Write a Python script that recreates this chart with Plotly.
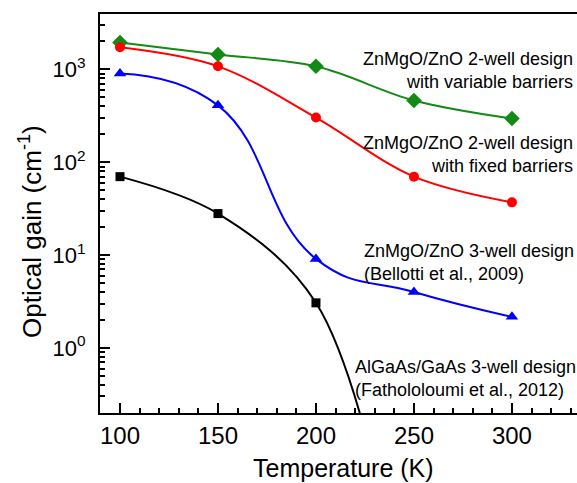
import plotly.graph_objects as go

temps = [100, 150, 200, 250, 300]
green_vals = [1950, 1450, 1080, 463, 296]   # variable barriers
red_vals = [1730, 1080, 303, 70, 37]        # fixed barriers
blue_vals = [906, 410, 9.1, 4.0, 2.16]      # 3-well ZnMgO/ZnO
black_x = [100, 150, 200]
black_vals = [70, 28, 3.06]                 # AlGaAs/GaAs
# extrapolated continuation of the black fitted curve (leaves the axes)
black_fit_x = [100, 150, 200, 240]
black_fit_vals = [70, 28, 3.06, 0.006]

y_tickvals = [1, 10, 100, 1000]
y_ticktext = ["10<sup>0</sup>", "10<sup>1</sup>", "10<sup>2</sup>", "10<sup>3</sup>"]
x_tickvals = [100, 150, 200, 250, 300]

FONT = "Arial, Liberation Sans, sans-serif"
GREEN = "#138a13"
RED = "#ff0000"
BLUE = "#0000ff"
BLACK = "#000000"

fig = go.Figure()

def add_series(x, y, color, symbol, size, fit_x=None, fit_y=None, smoothing=1.0):
    fx = fit_x if fit_x is not None else x
    fy = fit_y if fit_y is not None else y
    fig.add_trace(go.Scatter(x=fx, y=fy, mode="lines",
                             line=dict(color=color, width=2, shape="spline", smoothing=smoothing),
                             hoverinfo="skip", showlegend=False))
    fig.add_trace(go.Scatter(x=x, y=y, mode="markers",
                             marker=dict(color=color, symbol=symbol, size=size,
                                         line=dict(width=0)),
                             showlegend=False))

add_series(temps, green_vals, GREEN, "diamond", 12)
add_series(temps, red_vals, RED, "circle", 10)
add_series(temps, blue_vals, BLUE, "triangle-up", 11, smoothing=1.3)
add_series(black_x, black_vals, BLACK, "square", 9, black_fit_x, black_fit_vals)

minor_y = [m * 10 ** e for e in range(-1, 4) for m in range(2, 10)]
minor_x = [v for v in range(90, 340, 10) if v % 50 != 0]

fig.update_xaxes(range=[89.8, 333.2], tickvals=x_tickvals,
                 ticks="inside", ticklen=10, tickwidth=1.5, tickcolor="black",
                 showline=True, linecolor="black", linewidth=2, mirror=True,
                 showgrid=False, zeroline=False,
                 tickfont=dict(family=FONT, size=24, color="black"),
                 minor=dict(tickvals=minor_x, ticks="inside", ticklen=5, tickwidth=1.5,
                            tickcolor="black", showgrid=False))
fig.update_yaxes(type="log", range=[-0.701, 3.597], tickvals=y_tickvals, ticktext=y_ticktext,
                 ticks="inside", ticklen=10, tickwidth=1.5, tickcolor="black",
                 showline=True, linecolor="black", linewidth=2, mirror=False,
                 showgrid=False, zeroline=False, ticklabelstandoff=8,
                 tickfont=dict(family=FONT, size=22, color="black"),
                 minor=dict(tickvals=minor_y, ticks="inside", ticklen=5, tickwidth=1.5,
                            tickcolor="black", showgrid=False))

ann_font = dict(family=FONT, size=18, color="black")
fig.add_annotation(text="Temperature (K)", xref="paper", yref="paper",
                   x=0.5115, y=-0.138, xanchor="center", yanchor="middle", showarrow=False,
                   font=dict(family=FONT, size=25, color="black"))
fig.add_annotation(text="Optical gain (cm<sup>-1</sup>)", xref="paper", yref="paper",
                   x=-0.147, y=0.456, xanchor="center", yanchor="middle",
                   textangle=-90, showarrow=False,
                   font=dict(family=FONT, size=26, color="black"))
fig.add_annotation(text="ZnMgO/ZnO 2-well design<br>with variable barriers",
                   xref="paper", yref="paper", x=0.995, y=0.858, xanchor="right", yanchor="middle",
                   align="right", showarrow=False, font=ann_font)
fig.add_annotation(text="ZnMgO/ZnO 2-well design<br>with fixed barriers",
                   xref="paper", yref="paper", x=0.995, y=0.649, xanchor="right", yanchor="middle",
                   align="right", showarrow=False, font=ann_font)
fig.add_annotation(text="ZnMgO/ZnO 3-well design<br>(Bellotti et al., 2009)",
                   xref="paper", yref="paper", x=0.549, y=0.377, xanchor="left", yanchor="middle",
                   align="left", showarrow=False, font=ann_font)
fig.add_annotation(text="AlGaAs/GaAs 3-well design<br>(Fathololoumi et al., 2012)",
                   xref="paper", yref="paper", x=0.53, y=0.0877, xanchor="left", yanchor="middle",
                   align="left", showarrow=False, font=ann_font)

fig.update_layout(width=577, height=483, autosize=False,
                  margin=dict(l=100, r=0, t=14, b=70),
                  plot_bgcolor="white", paper_bgcolor="white")

fig.write_html("out.html", config={"displayModeBar": False},
               post_script="document.body.style.margin='0';document.body.style.overflow='hidden';")
